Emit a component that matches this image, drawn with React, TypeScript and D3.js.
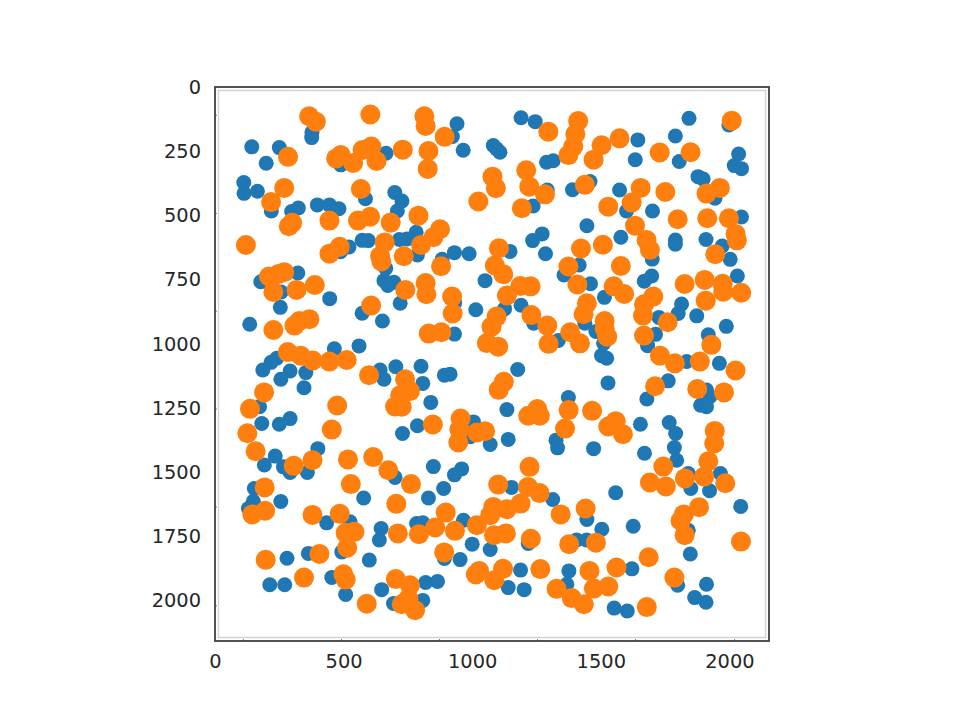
import { useEffect, useRef } from 'react';
import * as d3 from 'd3';

const xTickValues = [0, 500, 1000, 1500, 2000];
const yTickValues = [0, 250, 500, 750, 1000, 1250, 1500, 1750, 2000];
const innerTickValues = [110, 492, 873, 1254, 1635, 2020];

const bluePoints: [number, number][] = [
  [377, 176], [376, 197], [143, 233], [250, 236], [199, 297], [112, 372], [113, 414], [165, 406], [219, 483], [298, 485],
  [324, 471], [398, 459], [445, 459], [482, 474], [521, 623], [488, 641], [489, 303], [665, 258], [941, 143], [923, 193],
  [965, 246], [585, 435], [699, 411], [727, 444], [709, 483], [782, 566], [746, 592], [717, 594], [596, 598], [572, 597],
  [787, 654], [883, 671], [931, 645], [988, 649], [664, 706], [657, 754], [696, 760], [672, 773], [322, 724], [178, 758],
  [257, 798], [446, 824], [254, 858], [720, 842], [572, 881], [651, 911], [135, 924], [932, 840], [1014, 867], [1050, 754],
  [931, 962], [464, 1019], [560, 1008], [240, 1056], [218, 1072],
  [186, 1102], [292, 1106], [256, 1138], [353, 1112], [346, 1171], [642, 1102], [657, 1138], [703, 1089], [801, 1087], [808, 1154],
  [892, 1122], [914, 1118], [839, 1228], [173, 1245], [182, 1310], [250, 1313], [292, 1291], [787, 1319], [729, 1349], [1005, 1304],
  [992, 1362], [1070, 1392], [400, 1408], [234, 1437], [192, 1472], [266, 1479], [292, 1501], [359, 1501], [153, 1563], [149, 1613],
  [130, 1641], [256, 1614], [700, 1520], [849, 1478], [959, 1487], [931, 1510], [889, 1563], [830, 1600], [578, 1600], [434, 1697],
  [525, 1693], [646, 1719], [639, 1764], [784, 1700], [808, 1697], [966, 1687], [1000, 1780], [1070, 1801], [953, 1840], [892, 1836],
  [600, 1842], [493, 1810], [363, 1816], [280, 1835], [454, 1910], [213, 1938], [271, 1938], [508, 1976], [648, 1957], [819, 1929],
  [865, 1925], [808, 1999], [694, 2011],
  [1190, 120], [1245, 135], [1843, 122], [1998, 148], [1644, 206], [1790, 191], [1082, 228], [1095, 241], [1108, 254], [1289, 293],
  [1315, 287], [1634, 283], [1805, 290], [2036, 261], [2019, 306], [2047, 318], [1878, 349], [1898, 358], [1292, 401], [1390, 400],
  [1458, 368], [1573, 401], [1237, 463], [1600, 483], [1701, 483], [1944, 433], [2047, 506], [1446, 540], [1272, 572], [1235, 598],
  [1578, 585], [1790, 596], [1790, 612], [1909, 594], [1972, 619], [2003, 671], [1147, 640], [1285, 649], [1700, 670], [1416, 693],
  [1357, 732], [1698, 736], [1669, 756], [2031, 736], [1460, 766], [1514, 819], [1190, 850], [1126, 864], [1814, 845], [1801, 882],
  [1726, 897], [1873, 891], [1988, 932], [1239, 920], [1438, 920], [1481, 952], [1335, 987], [1713, 963], [1682, 1007], [1918, 965],
  [1511, 998], [1503, 1046], [1523, 1056], [1834, 1069], [1961, 1076],
  [1177, 1100], [1762, 1144], [1679, 1215], [1528, 1152], [1374, 1209], [1911, 1180], [1924, 1206], [1888, 1239], [1911, 1245], [1135, 1256],
  [1654, 1313], [1766, 1306], [1791, 1349], [1786, 1404], [1795, 1453], [1326, 1375], [1332, 1405], [1472, 1408], [1140, 1372], [1670, 1426],
  [1840, 1505], [1850, 1563], [1923, 1572], [1965, 1505], [1558, 1580], [1153, 1559], [1313, 1606], [2044, 1633], [1446, 1684], [1504, 1722],
  [1626, 1710], [1840, 1726], [1406, 1764], [1445, 1764], [1218, 1777], [1848, 1818], [1621, 1876], [1188, 1881], [1376, 1884], [1368, 1936],
  [1140, 1949], [1202, 1957], [1799, 1940], [1911, 1936], [1865, 1988], [1909, 2006], [1552, 2029], [1603, 2040],
];

const orangePoints: [number, number][] = [
  [366, 114], [392, 135], [604, 107], [814, 114], [819, 152], [893, 194], [284, 272], [730, 244], [830, 249], [827, 319],
  [471, 278], [489, 265], [537, 296], [574, 245], [608, 232], [628, 288], [269, 393], [218, 448], [567, 397], [1024, 446],
  [791, 501], [683, 528], [445, 520], [556, 520], [603, 505], [300, 529], [287, 542], [120, 615], [660, 605], [642, 658],
  [647, 679], [734, 659], [801, 615], [849, 585], [875, 554], [485, 622], [445, 649], [879, 698], [210, 738], [247, 728],
  [269, 721], [227, 798], [317, 790], [388, 771], [740, 790], [819, 763], [822, 807], [922, 816], [924, 882], [607, 851],
  [227, 946], [309, 929], [328, 911], [367, 904], [831, 960], [880, 955], [1095, 894], [1075, 933], [1057, 997], [1101, 1011],
  [283, 1032], [333, 1046], [380, 1065], [445, 1069], [512, 1063],
  [1412, 132], [1296, 174], [2009, 131], [1401, 183], [1393, 232], [1374, 265], [1503, 227], [1472, 283], [1573, 200], [1729, 255],
  [1849, 254], [1079, 349], [1092, 394], [1210, 324], [1222, 388], [1283, 418], [1193, 472], [1438, 381], [1655, 393], [1751, 409],
  [1620, 450], [1529, 466], [1911, 415], [1963, 393], [1799, 515], [1914, 511], [1998, 511], [2024, 572], [2029, 597], [1633, 540],
  [1678, 596], [1691, 634], [1945, 651], [1104, 628], [1088, 695], [1121, 729], [1423, 629], [1508, 614], [1578, 697], [1374, 699],
  [1409, 769], [1826, 767], [1904, 751], [1974, 766], [1976, 797], [2046, 801], [1908, 832], [1550, 776], [1591, 806], [1187, 775],
  [1227, 776], [1135, 812], [1704, 816], [1668, 846], [1664, 890], [1446, 842], [1433, 885], [1230, 888], [1292, 929], [1515, 911],
  [1515, 940], [1525, 972], [1760, 916], [1668, 968], [1381, 955], [1419, 998], [1297, 1000], [1930, 1004], [1730, 1046], [1788, 1076],
  [1885, 1069], [2024, 1104],
  [1123, 1148], [1103, 1179], [1711, 1165], [1875, 1176], [1979, 1189], [1253, 1254], [1218, 1280], [1263, 1280], [1375, 1258], [1361, 1330],
  [1466, 1261], [1529, 1322], [1558, 1301], [1586, 1352], [1943, 1339], [1941, 1388], [1918, 1457], [1743, 1478], [1223, 1479], [1827, 1524],
  [1902, 1517], [1984, 1543], [1691, 1540], [1753, 1555], [1217, 1557], [1262, 1581], [1188, 1622], [1134, 1644], [1082, 1635], [1344, 1664],
  [1441, 1641], [1823, 1664], [1810, 1689], [1882, 1636], [1826, 1745], [1131, 1738], [1085, 1745], [1228, 1759], [1377, 1780], [1481, 1774],
  [1686, 1831], [2045, 1770], [1120, 1876], [1086, 1920], [1265, 1877], [1456, 1884], [1561, 1871], [1473, 1953], [1529, 1945], [1328, 1954],
  [1387, 1990], [1434, 2014], [1786, 1910], [1679, 2025], [1101, 1548],
  [599, 1122], [739, 1138], [758, 1184], [720, 1200], [700, 1244], [726, 1245], [191, 1189], [136, 1253], [475, 1240], [454, 1334],
  [126, 1348], [158, 1418], [847, 1314], [955, 1291], [950, 1334], [946, 1384], [1018, 1345], [1050, 1340], [379, 1453], [306, 1475],
  [517, 1450], [615, 1441], [674, 1492], [762, 1546], [528, 1546], [705, 1623], [193, 1559], [195, 1650], [145, 1664], [379, 1666],
  [485, 1662], [508, 1736], [542, 1732], [514, 1794], [711, 1738], [793, 1741], [856, 1715], [897, 1657], [933, 1728], [1018, 1706],
  [1070, 1667], [891, 1812], [406, 1818], [197, 1841], [346, 1910], [499, 1897], [508, 1918], [1014, 1898], [1027, 1884], [703, 1916],
  [758, 1940], [590, 2012], [726, 2014], [752, 1992], [778, 2037],
];

const App = () => {
  const svgRef = useRef<SVGSVGElement | null>(null);

  useEffect(() => {
    if (!svgRef.current) return;

    const svg = d3.select(svgRef.current);
    svg.selectAll('*').remove();

    const left = 215;
    const right = 769;
    const top = 87;
    const bottom = 641;

    const xScale = d3.scaleLinear().domain([0, 2154]).range([left, right]);
    const yScale = d3.scaleLinear().domain([0, 2157]).range([top, bottom]);

    svg.append('rect').attr('width', 960).attr('height', 720).attr('fill', '#fff');

    // light inner border
    svg.append('rect')
      .attr('x', left + 3.5)
      .attr('y', top + 3.5)
      .attr('width', right - left - 7)
      .attr('height', bottom - top - 7)
      .attr('fill', 'none')
      .attr('stroke', '#d2d2d2')
      .attr('stroke-width', 1.4);

    svg.append('g')
      .selectAll('circle')
      .data(bluePoints)
      .enter()
      .append('circle')
      .attr('cx', d => xScale(d[0]))
      .attr('cy', d => yScale(d[1]))
      .attr('r', 7.5)
      .attr('fill', '#1f77b4');

    svg.append('g')
      .selectAll('circle')
      .data(orangePoints)
      .enter()
      .append('circle')
      .attr('cx', d => xScale(d[0]))
      .attr('cy', d => yScale(d[1]))
      .attr('r', 10)
      .attr('fill', '#ff7f0e');

    // small marks sitting on the frame
    svg.append('g')
      .selectAll('line')
      .data(innerTickValues)
      .enter()
      .append('line')
      .attr('x1', d => xScale(d))
      .attr('x2', d => xScale(d))
      .attr('y1', bottom - 2)
      .attr('y2', bottom)
      .attr('stroke', '#777');
    svg.append('g')
      .selectAll('line')
      .data(innerTickValues)
      .enter()
      .append('line')
      .attr('x1', left)
      .attr('x2', left + 2)
      .attr('y1', d => yScale(d))
      .attr('y2', d => yScale(d))
      .attr('stroke', '#777');

    svg.append('rect')
      .attr('x', left)
      .attr('y', top)
      .attr('width', right - left)
      .attr('height', bottom - top)
      .attr('fill', 'none')
      .attr('stroke', '#404040')
      .attr('stroke-width', 1.8);

    const xAxis = svg.append('g')
      .attr('transform', `translate(0,${bottom})`)
      .call(d3.axisBottom(xScale).tickValues(xTickValues).tickFormat(d3.format('d')).tickSize(0).tickPadding(13));
    const yAxis = svg.append('g')
      .attr('transform', `translate(${left},0)`)
      .call(d3.axisLeft(yScale).tickValues(yTickValues).tickFormat(d3.format('d')).tickSize(0).tickPadding(14));

    [xAxis, yAxis].forEach(axis => {
      axis.select('.domain').remove();
      axis.selectAll('text')
        .style('font-family', '"DejaVu Sans"')
        .style('font-size', '19.4px')
        .style('fill', '#262626');
    });
  }, []);

  return <svg ref={svgRef} width={960} height={720} style={{ position: 'absolute', left: 0, top: 0 }} />;
};

export default App;
